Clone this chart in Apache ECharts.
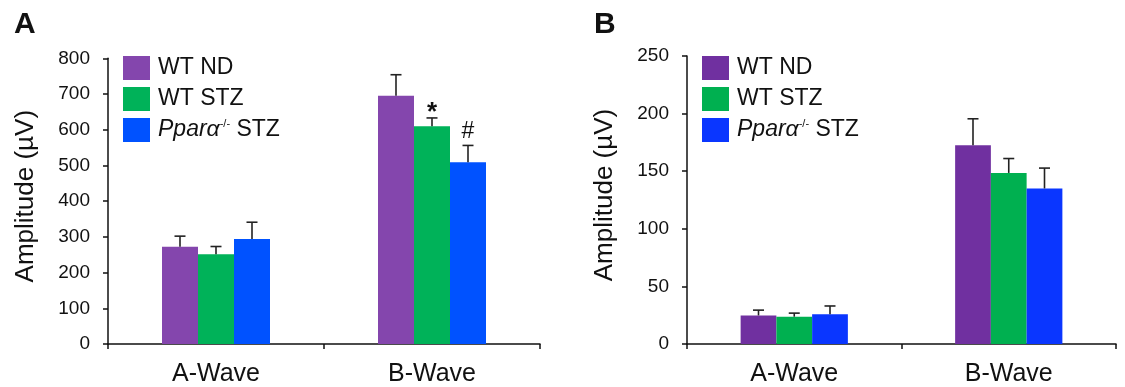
<!DOCTYPE html>
<html>
<head>
<meta charset="utf-8">
<script src="https://cdn.jsdelivr.net/npm/echarts@6/dist/echarts.min.js"></script>
<style>
html,body{margin:0;padding:0;background:#fff;}
#c{width:1125px;height:387px;}
</style>
</head>
<body>
<div id="c"></div>
<script>
// ---- data ----
const categories = ['A-Wave', 'B-Wave'];
const seriesNames = ['WT ND', 'WT STZ', 'Pparα-/- STZ'];
// Panel A
const aWtNd   = [272, 695];
const aWtStz  = [251, 610];
const aPpara  = [294, 509];
const aErrWtNd  = [30, 59];
const aErrWtStz = [22, 23];
const aErrPpara = [47, 47];
const aMarks = [['', ''], ['', '*'], ['', '#']]; // per series, per category
// Panel B
const bWtNd   = [24.8, 172.5];
const bWtStz  = [23.7, 148.5];
const bPpara  = [25.9, 135];
const bErrWtNd  = [4.6, 23];
const bErrWtStz = [3.1, 12.5];
const bErrPpara = [7.1, 17.7];
// axis ticks
const aYMax = 800, aYStep = 100;
const bYMax = 250, bYStep = 50;

// ---- styling ----
const FONT = 'Liberation Sans, Arial, sans-serif';
const colorsA = ['#8446ad', '#00b259', '#0052ff'];
const colorsB = ['#7030a0', '#00b050', '#0a36ff'];

function legendFormatter(name) {
  if (name.indexOf('Ppar') === 0) return '{i|Pparα}{s|-/-}{n| STZ}';
  return '{n|' + name + '}';
}
const legendRich = {
  n: {fontSize: 23, fontFamily: FONT, color: '#111'},
  i: {fontSize: 23, fontFamily: FONT, color: '#111', fontStyle: 'italic'},
  s: {fontSize: 11, fontFamily: FONT, color: '#111', verticalAlign: 'top', padding: [0, 0, 10, 0]}
};

function makeLegend(left, colors) {
  return {
    orient: 'vertical', left: left, top: 51, padding: 5,
    itemWidth: 27, itemHeight: 24, itemGap: 7,
    icon: 'rect',
    selectedMode: false,
    data: seriesNames.map((n, i) => ({name: n, itemStyle: {color: colors[i]}})),
    formatter: legendFormatter,
    textStyle: {rich: legendRich, padding: [0, 0, 0, 3]}
  };
}

function xAxisFor(gi) {
  return {
    type: 'category', gridIndex: gi, data: categories,
    axisLine: {lineStyle: {color: '#111', width: 1.5}},
    axisTick: {show: true, length: 5, lineStyle: {color: '#111', width: 1.5}},
    axisLabel: {fontSize: 25, fontFamily: FONT, color: '#111', margin: 18}
  };
}
function yAxisFor(gi, max, step) {
  return {
    type: 'value', gridIndex: gi, min: 0, max: max, interval: step,
    name: 'Amplitude (µV)', nameLocation: 'middle', nameRotate: 90, nameGap: 69,
    nameTextStyle: {fontSize: 26, fontFamily: FONT, color: '#111', padding: [0, 0, 0, 10]},
    splitLine: {show: false},
    axisLine: {show: true, lineStyle: {color: '#111', width: 1.5}},
    axisTick: {show: true, length: 5, lineStyle: {color: '#111', width: 1.5}},
    axisLabel: {fontSize: 19, fontFamily: FONT, color: '#111', margin: 18}
  };
}

function barSeries(gi, name, data, color) {
  return {
    type: 'bar', name: name, xAxisIndex: gi, yAxisIndex: gi, data: data,
    barGap: '0%', barCategoryGap: '50%',
    itemStyle: {color: color}, z: 2
  };
}

function errSeries(gi, valsList, errsList, marks) {
  const data = [];
  valsList.forEach((vals, si) => {
    vals.forEach((v, ci) => {
      data.push([ci, v, errsList[si][ci], si, marks ? marks[si][ci] : '']);
    });
  });
  return {
    type: 'custom', xAxisIndex: gi, yAxisIndex: gi, z: 5,
    encode: {x: 0, y: 1},
    data: data,
    renderItem: function (params, api) {
      const ci = api.value(0), v = api.value(1), e = api.value(2), si = api.value(3);
      const band = api.size([1, 0])[0];
      const bw = band * 0.5 / 3;
      const c = api.coord([ci, v]);
      const top = api.coord([ci, v + e]);
      const x = c[0] + (si - 1) * bw;
      const cap = 5.5;
      const children = [
        {type: 'line', shape: {x1: x, y1: c[1], x2: x, y2: top[1]}, style: {stroke: '#222', lineWidth: 1.6}},
        {type: 'line', shape: {x1: x - cap, y1: top[1], x2: x + cap, y2: top[1]}, style: {stroke: '#222', lineWidth: 1.6}}
      ];
      const m = data[params.dataIndex][4];
      if (m === '*') {
        children.push({
          type: 'text',
          style: {text: m, x: x, y: top[1] + 8, align: 'center', verticalAlign: 'bottom',
                  fontSize: 26, fontWeight: 'bold', fontFamily: FONT, fill: '#111'}
        });
      } else if (m) {
        children.push({
          type: 'text',
          style: {text: m, x: x, y: top[1] - 2, align: 'center', verticalAlign: 'bottom',
                  fontSize: 23, fontFamily: FONT, fill: '#111'}
        });
      }
      return {type: 'group', children: children};
    }
  };
}

const chart = echarts.init(document.getElementById('c'), null, {renderer: 'canvas'});
chart.setOption({
  backgroundColor: '#fff',
  animation: false,
  title: [
    {text: 'A', left: 9, top: 5, textStyle: {fontSize: 30, fontWeight: 'bold', fontFamily: FONT, color: '#111'}},
    {text: 'B', left: 589, top: 5, textStyle: {fontSize: 30, fontWeight: 'bold', fontFamily: FONT, color: '#111'}}
  ],
  legend: [makeLegend(118, colorsA), makeLegend(697, colorsB)],
  grid: [
    {left: 108, top: 58.3, width: 432, height: 287.4},
    {left: 687, top: 56, width: 429, height: 292.3}
  ],
  xAxis: [xAxisFor(0), xAxisFor(1)],
  yAxis: [yAxisFor(0, aYMax, aYStep), yAxisFor(1, bYMax, bYStep)],
  series: [
    barSeries(0, seriesNames[0], aWtNd, colorsA[0]),
    barSeries(0, seriesNames[1], aWtStz, colorsA[1]),
    barSeries(0, seriesNames[2], aPpara, colorsA[2]),
    barSeries(1, seriesNames[0], bWtNd, colorsB[0]),
    barSeries(1, seriesNames[1], bWtStz, colorsB[1]),
    barSeries(1, seriesNames[2], bPpara, colorsB[2]),
    errSeries(0, [aWtNd, aWtStz, aPpara], [aErrWtNd, aErrWtStz, aErrPpara], aMarks),
    errSeries(1, [bWtNd, bWtStz, bPpara], [bErrWtNd, bErrWtStz, bErrPpara], null)
  ]
});
</script>
</body>
</html>
